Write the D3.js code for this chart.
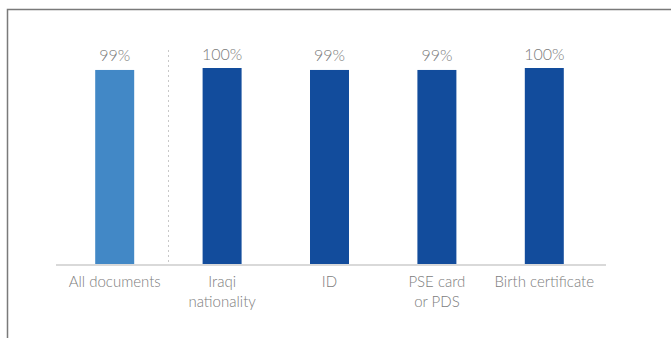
<!DOCTYPE html>
<html>
<head>
<meta charset="utf-8">
<script src="https://cdn.jsdelivr.net/npm/d3@7"></script>
<style>
  html, body { margin: 0; padding: 0; background: #fff; }
  svg { display: block; }
  text { font-family: Lato, "Open Sans", sans-serif; fill: #7c7c7c; }
</style>
</head>
<body>
<svg id="chart" width="671" height="338"></svg>
<script>
// Share of respondents holding each document type
const categories = ["All documents", "Iraqi nationality", "ID", "PSE card or PDS", "Birth certificate"];
const categoryLines = [["All documents"], ["Iraqi", "nationality"], ["ID"], ["PSE card", "or PDS"], ["Birth certificate"]];
const values = [99, 100, 99, 99, 100];
const valueLabels = ["99%", "100%", "99%", "99%", "100%"];
const barColors = ["#4288C6", "#124C9C", "#124C9C", "#124C9C", "#124C9C"];

const svg = d3.select("#chart");
const W = 671, H = 338;

// Panel frame: left and top edges only
svg.append("path")
  .attr("d", `M7.5,${H} V9.5 H${W}`)
  .attr("fill", "none")
  .attr("stroke", "#7a7a7a")
  .attr("stroke-width", 1.5);

const x = d3.scaleBand()
  .domain(categories)
  .range([61, 598])
  .paddingInner(0.637)
  .paddingOuter(0.3185);

const y = d3.scaleLinear()
  .domain([0, 100])
  .range([264, 68]);

// Dotted divider between the total and the breakdown
const divX = Math.round((x(categories[0]) + x.bandwidth() + x(categories[1])) / 2) + 0.5;
svg.append("line")
  .attr("x1", divX).attr("x2", divX)
  .attr("y1", 50).attr("y2", y(0))
  .attr("stroke", "#c8c8c8")
  .attr("stroke-width", 1)
  .attr("stroke-dasharray", "2,3");

// Bars
svg.append("g").selectAll("rect")
  .data(values)
  .join("rect")
  .attr("x", (d, i) => x(categories[i]))
  .attr("width", x.bandwidth())
  .attr("y", d => y(d))
  .attr("height", d => y(0) - y(d))
  .attr("fill", (d, i) => barColors[i]);

// Baseline
svg.append("line")
  .attr("x1", 56).attr("x2", 606)
  .attr("y1", y(0) + 1).attr("y2", y(0) + 1)
  .attr("stroke", "#d9d9d9")
  .attr("stroke-width", 2);

// Value labels
svg.append("g").selectAll("text")
  .data(values)
  .join("text")
  .attr("x", (d, i) => x(categories[i]) + x.bandwidth() / 2)
  .attr("y", d => y(d) - 8.5)
  .attr("text-anchor", "middle")
  .attr("font-size", 16)
  .attr("font-weight", 300)
  .text((d, i) => valueLabels[i]);

// Category labels (wrapped)
const catG = svg.append("g").selectAll("text")
  .data(categories)
  .join("text")
  .attr("text-anchor", "middle")
  .attr("font-size", 15)
  .attr("font-weight", 300)
  .attr("transform", (d, i) => `translate(${x(d) + x.bandwidth() / 2},287)`);

catG.selectAll("tspan")
  .data((d, i) => categoryLines[i])
  .join("tspan")
  .attr("x", 0)
  .attr("dy", (d, j) => j === 0 ? 0 : 20)
  .text(d => d);
</script>
</body>
</html>
